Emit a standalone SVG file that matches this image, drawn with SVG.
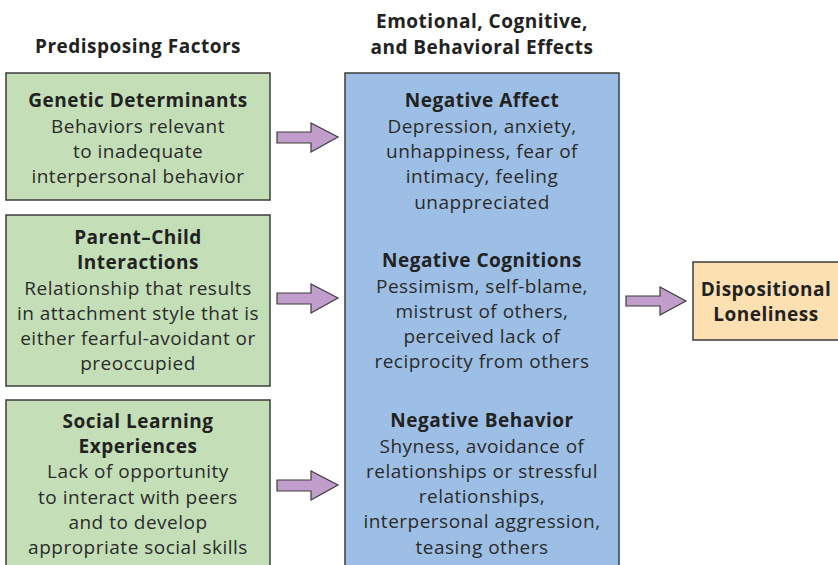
<svg xmlns="http://www.w3.org/2000/svg" width="838" height="565" viewBox="0 0 838 565">
<style>
text{font-family:"Open Sans","Liberation Sans",sans-serif;font-size:19px;letter-spacing:0.5px;fill:#2b2b2b;text-anchor:middle}
.b{font-weight:bold;fill:#222}
.box{stroke:#3d3d3d;stroke-width:1.5}
.g{fill:#c4dfb7}
.bl{fill:#9dbfe5}
.o{fill:#fde0b2}
.ar{fill:#c09dcb;stroke:#3d3d3d;stroke-width:1.2;stroke-linejoin:miter}
</style>
<rect width="838" height="565" fill="#fff"/>
<g id="headers">
<text class="b" x="138" y="53">Predisposing Factors</text>
<text class="b" x="482" y="28">Emotional, Cognitive,</text>
<text class="b" x="482" y="54">and Behavioral Effects</text>
</g>
<g id="genetic">
<rect class="box g" x="6" y="73" width="264" height="127"/>
<text class="b" x="138" y="107">Genetic Determinants</text>
<text x="138" y="133">Behaviors relevant</text>
<text x="138" y="158">to inadequate</text>
<text x="138" y="183">interpersonal behavior</text>
</g>
<g id="parent">
<rect class="box g" x="6" y="215" width="264" height="171"/>
<text class="b" x="138" y="244">Parent–Child</text>
<text class="b" x="138" y="269">Interactions</text>
<text x="138" y="295">Relationship that results</text>
<text x="138" y="320">in attachment style that is</text>
<text x="138" y="345">either fearful-avoidant or</text>
<text x="138" y="370">preoccupied</text>
</g>
<g id="social">
<rect class="box g" x="6" y="400" width="264" height="175"/>
<text class="b" x="138" y="428">Social Learning</text>
<text class="b" x="138" y="453">Experiences</text>
<text x="138" y="478">Lack of opportunity</text>
<text x="138" y="504">to interact with peers</text>
<text x="138" y="529">and to develop</text>
<text x="138" y="554">appropriate social skills</text>
</g>
<g id="effects">
<rect class="box bl" x="345" y="73" width="274" height="502"/>
<text class="b" x="482" y="107">Negative Affect</text>
<text x="482" y="133">Depression, anxiety,</text>
<text x="482" y="158">unhappiness, fear of</text>
<text x="482" y="183">intimacy, feeling</text>
<text x="482" y="209">unappreciated</text>
<text class="b" x="482" y="267">Negative Cognitions</text>
<text x="482" y="293">Pessimism, self-blame,</text>
<text x="482" y="318">mistrust of others,</text>
<text x="482" y="343">perceived lack of</text>
<text x="482" y="368">reciprocity from others</text>
<text class="b" x="482" y="427">Negative Behavior</text>
<text x="482" y="453">Shyness, avoidance of</text>
<text x="482" y="478">relationships or stressful</text>
<text x="482" y="503">relationships,</text>
<text x="482" y="528">interpersonal aggression,</text>
<text x="482" y="554">teasing others</text>
</g>
<g id="loneliness">
<rect class="box o" x="693" y="262" width="150" height="78"/>
<text class="b" x="766" y="296">Dispositional</text>
<text class="b" x="766" y="321">Loneliness</text>
</g>
<g id="connectors">
<polygon class="ar" points="277,132 311,132 311,123 338,137 311,152 311,143 277,143"/>
<polygon class="ar" points="277,293 311,293 311,284 338,298 311,313 311,304 277,304"/>
<polygon class="ar" points="277,480 311,480 311,471 338,485 311,500 311,491 277,491"/>
<polygon class="ar" points="626,296 660,296 660,287 686,301 660,315 660,306 626,306"/>
</g>
</svg>
